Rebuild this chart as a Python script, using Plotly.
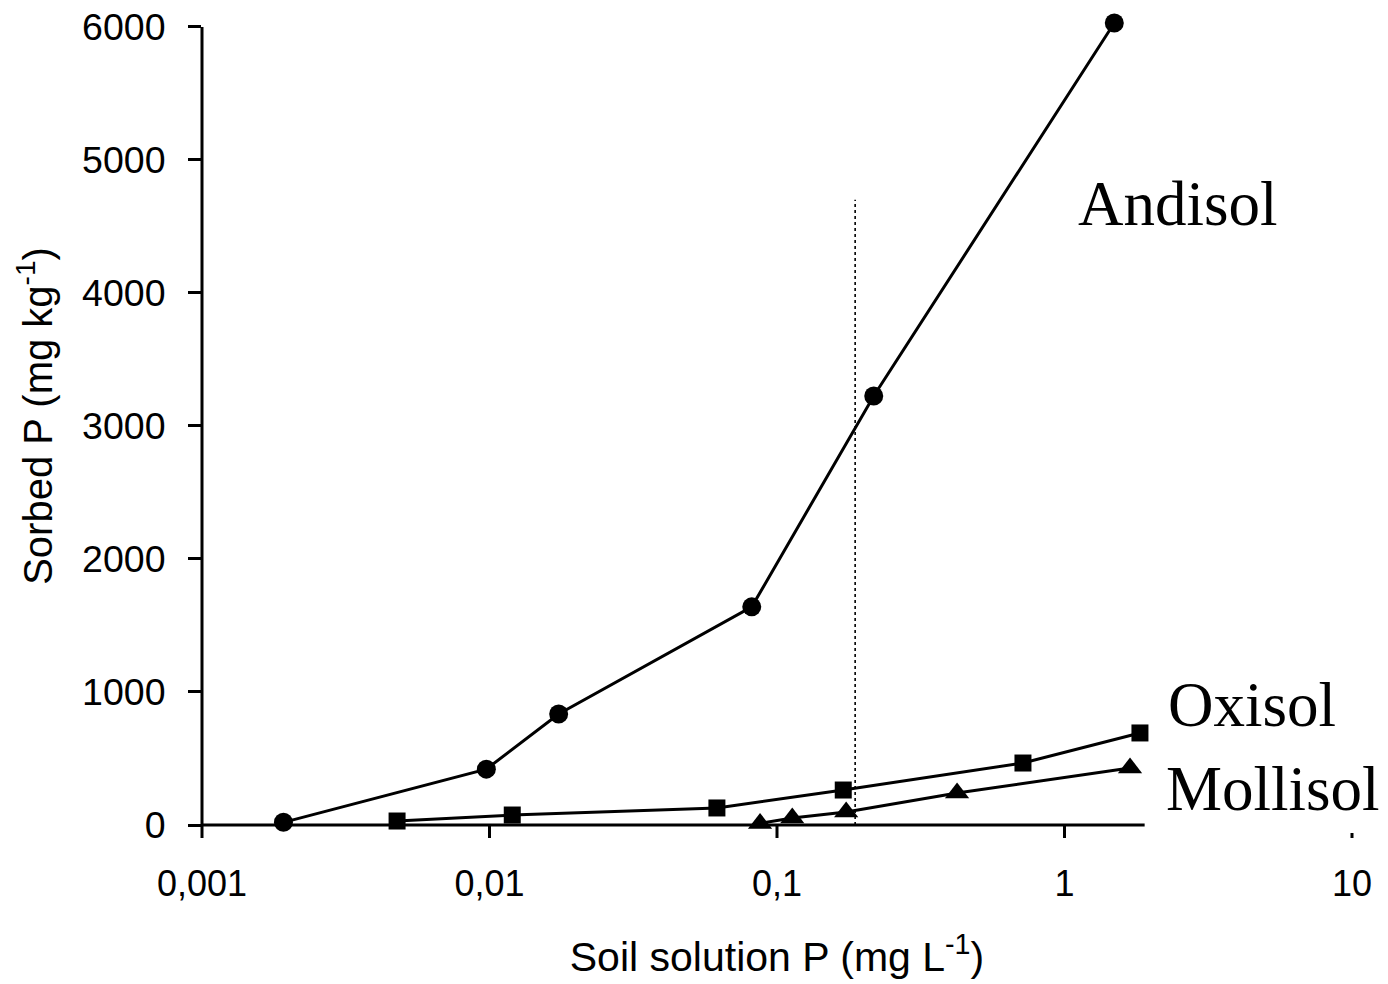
import math
import plotly.graph_objects as go

# ---- data ----
andisol_x = [0.00192, 0.00975, 0.0174, 0.0817, 0.217, 1.49]
andisol_y = [20, 420, 835, 1640, 3225, 6030]

oxisol_x = [0.00477, 0.0120, 0.0618, 0.170, 0.717, 1.83]
oxisol_y = [30, 75, 128, 263, 466, 692]

mollisol_x = [0.0873, 0.113, 0.174, 0.423, 1.69]
mollisol_y = [12, 53, 98, 240, 429]

ref_x = [0.187, 0.187]
ref_y = [0, 4700]

x_tickvals = [0.001, 0.01, 0.1, 1, 10]
x_ticktext = ["0,001", "0,01", "0,1", "1", "10"]
y_tickvals = [0, 1000, 2000, 3000, 4000, 5000, 6000]

x_range_log = [-3, 1]
y_range = [0, 6150]
y_axis_top = 6000
x_axis_end = 1.9

SANS = "Liberation Sans, Arial, sans-serif"
SERIF = "Liberation Serif, Times New Roman, serif"


def xpaper(v):
    return (math.log10(v) - x_range_log[0]) / (x_range_log[1] - x_range_log[0])


def ypaper(v):
    return (v - y_range[0]) / (y_range[1] - y_range[0])


fig = go.Figure()

# vertical dotted reference line
fig.add_trace(go.Scatter(x=ref_x, y=ref_y, mode="lines",
                         line=dict(color="black", width=1.6, dash="dot"),
                         hoverinfo="skip", showlegend=False))

fig.add_trace(go.Scatter(x=andisol_x, y=andisol_y, mode="lines+markers", name="Andisol",
                         line=dict(color="black", width=3),
                         marker=dict(symbol="circle", size=19, color="black"),
                         cliponaxis=False, showlegend=False))
fig.add_trace(go.Scatter(x=oxisol_x, y=oxisol_y, mode="lines+markers", name="Oxisol",
                         line=dict(color="black", width=3),
                         marker=dict(symbol="square", size=17, color="black"),
                         cliponaxis=False, showlegend=False))
fig.add_trace(go.Scatter(x=mollisol_x, y=mollisol_y, mode="lines+markers", name="Mollisol",
                         line=dict(color="black", width=3),
                         marker=dict(symbol="triangle-up", size=21, color="black"),
                         cliponaxis=False, showlegend=False))

shapes = []
# x axis line (stops short of the right edge)
shapes.append(dict(type="line", xref="paper", yref="paper",
                   x0=xpaper(x_tickvals[0]), x1=xpaper(x_axis_end), y0=0, y1=0,
                   line=dict(color="black", width=3)))
# y axis line (up to 6000)
shapes.append(dict(type="line", xref="paper", yref="paper",
                   x0=0, x1=0, y0=ypaper(0), y1=ypaper(y_axis_top),
                   line=dict(color="black", width=3)))
# x-axis tick marks
for tv in x_tickvals:
    if tv == 10:
        y0, y1 = -8, -13
    else:
        y0, y1 = 0, -13
    xp = xpaper(tv)
    shapes.append(dict(type="line", xref="paper", yref="paper", x0=xp, x1=xp,
                       ysizemode="pixel", yanchor=0, y0=y0, y1=y1,
                       line=dict(color="black", width=3)))

annotations = [
    dict(text="Andisol", x=0.849, y=ypaper(4670), xref="paper", yref="paper",
         showarrow=False, xanchor="center", yanchor="middle",
         font=dict(family=SERIF, size=63, color="black")),
    dict(text="Oxisol", x=0.913, y=ypaper(905), xref="paper", yref="paper",
         showarrow=False, xanchor="center", yanchor="middle",
         font=dict(family=SERIF, size=63, color="black")),
    dict(text="Mollisol", x=0.931, y=ypaper(267), xref="paper", yref="paper",
         showarrow=False, xanchor="center", yanchor="middle",
         font=dict(family=SERIF, size=63, color="black")),
]

fig.update_layout(
    width=1388, height=984,
    margin=dict(l=202, r=36, t=7, b=159),
    paper_bgcolor="white", plot_bgcolor="white",
    font=dict(family=SANS, color="black"),
    shapes=shapes,
    annotations=annotations,
    xaxis=dict(type="log", range=x_range_log, tickvals=x_tickvals, ticktext=x_ticktext,
               ticks="", showline=False, showgrid=False, zeroline=False,
               tickfont=dict(size=36, family=SANS), ticklabelstandoff=34,
               title=dict(text="Soil solution P (mg L<sup>-1</sup>)",
                          font=dict(size=41, family=SANS), standoff=39)),
    yaxis=dict(range=y_range, tickvals=y_tickvals,
               ticks="outside", ticklen=13, tickwidth=3, tickcolor="black",
               showline=False, showgrid=False, zeroline=False,
               tickfont=dict(size=37.5, family=SANS), ticklabelstandoff=15,
               title=dict(text="Sorbed P (mg kg<sup>-1</sup>)",
                          font=dict(size=40, family=SANS), standoff=17)),
)

fig.write_html("out.html")
